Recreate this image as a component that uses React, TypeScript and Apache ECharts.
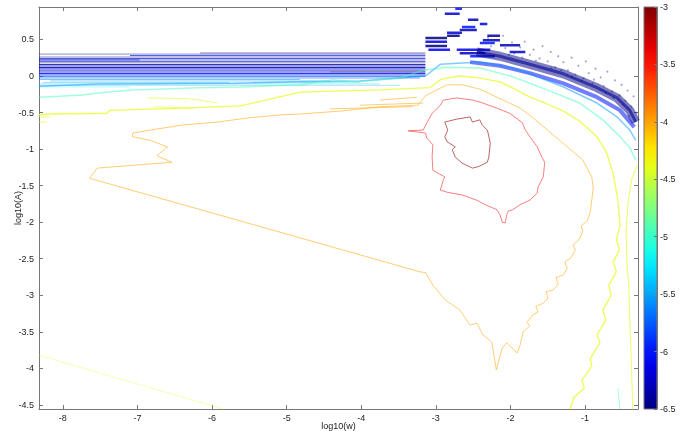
import React, { useEffect, useRef } from "react";
import * as echarts from "echarts";

type P = [number, number];

// ---- contour polylines (log10(w), log10(A)) ----
const innerLoop: P[] = [[-2.88,-0.63],[-2.72,-0.59],[-2.54,-0.56],[-2.51,-0.63],[-2.41,-0.60],[-2.38,-0.67],[-2.31,-0.74],[-2.30,-0.78],[-2.27,-0.92],[-2.29,-1.11],[-2.31,-1.18],[-2.43,-1.24],[-2.51,-1.26],[-2.65,-1.19],[-2.74,-1.11],[-2.78,-1.01],[-2.74,-0.97],[-2.85,-0.90],[-2.88,-0.83],[-2.84,-0.74],[-2.88,-0.63]];

const redLoop: P[] = [[-3.37,-0.75],[-3.17,-0.74],[-3.12,-0.64],[-3.05,-0.51],[-2.94,-0.40],[-2.90,-0.33],[-2.72,-0.30],[-2.50,-0.33],[-2.37,-0.37],[-2.18,-0.44],[-2.01,-0.51],[-1.84,-0.64],[-1.80,-0.74],[-1.74,-0.83],[-1.64,-0.97],[-1.58,-1.11],[-1.54,-1.18],[-1.56,-1.38],[-1.63,-1.52],[-1.64,-1.60],[-1.74,-1.70],[-1.87,-1.76],[-1.97,-1.83],[-2.03,-1.85],[-2.05,-1.90],[-2.07,-2.01],[-2.11,-2.00],[-2.14,-1.90],[-2.18,-1.83],[-2.34,-1.76],[-2.45,-1.70],[-2.64,-1.63],[-2.85,-1.59],[-2.94,-1.56],[-2.90,-1.42],[-2.88,-1.38],[-3.04,-1.29],[-3.05,-1.11],[-3.04,-0.94],[-3.12,-0.85],[-3.14,-0.78],[-3.37,-0.75]];

const orangeLine: P[] = [[-2.85,-0.12],[-3.14,-0.27],[-3.24,-0.40],[-3.75,-0.42],[-4.28,-0.48],[-4.82,-0.52],[-5.05,-0.53],[-5.49,-0.57],[-5.93,-0.63],[-6.39,-0.67],[-6.83,-0.74],[-7.06,-0.78],[-7.07,-0.83],[-6.83,-0.88],[-6.60,-0.97],[-6.74,-1.09],[-6.54,-1.18],[-7.54,-1.26],[-7.64,-1.40],[-3.21,-2.68],[-3.14,-2.69],[-3.04,-2.86],[-2.88,-3.06],[-2.68,-3.20],[-2.54,-3.41],[-2.45,-3.38],[-2.37,-3.54],[-2.25,-3.64],[-2.19,-4.02],[-2.11,-3.72],[-2.05,-3.65],[-1.91,-3.79],[-1.87,-3.68],[-1.83,-3.50],[-1.74,-3.42],[-1.78,-3.37],[-1.70,-3.27],[-1.63,-3.23],[-1.66,-3.15],[-1.56,-3.11],[-1.50,-3.04],[-1.52,-2.95],[-1.43,-2.93],[-1.36,-2.85],[-1.39,-2.76],[-1.29,-2.72],[-1.24,-2.63],[-1.27,-2.54],[-1.19,-2.49],[-1.13,-2.38],[-1.16,-2.31],[-1.08,-2.24],[-1.03,-2.13],[-1.05,-2.05],[-0.97,-1.98],[-0.93,-1.86],[-0.91,-1.70],[-0.89,-1.53],[-0.91,-1.38],[-1.03,-1.15],[-1.34,-0.88],[-1.70,-0.57],[-1.87,-0.44],[-2.14,-0.31],[-2.41,-0.18],[-2.64,-0.12],[-2.85,-0.12]];

const orangeStrands: P[][] = [
  [[-3.75,-0.33],[-3.25,-0.29]],
  [[-4.02,-0.40],[-3.17,-0.37]],
  [[-4.42,-0.45],[-3.31,-0.42]],
];

const yellowLine: P[] = [[-8.32,-0.53],[-8.17,-0.52],[-7.41,-0.51],[-7.37,-0.47],[-6.39,-0.44],[-5.62,-0.41],[-4.82,-0.22],[-3.75,-0.19],[-3.08,-0.16],[-2.94,-0.05],[-2.85,-0.03],[-2.68,0.00],[-2.41,-0.03],[-2.14,-0.08],[-1.94,-0.18],[-1.74,-0.29],[-1.51,-0.38],[-1.29,-0.48],[-1.07,-0.62],[-0.84,-0.83],[-0.71,-1.05],[-0.62,-1.35],[-0.56,-1.70],[-0.53,-2.04],[-0.58,-2.24],[-0.54,-2.38],[-0.62,-2.54],[-0.58,-2.68],[-0.68,-2.86],[-0.65,-3.00],[-0.76,-3.20],[-0.72,-3.34],[-0.84,-3.54],[-0.80,-3.65],[-0.93,-3.86],[-0.91,-3.97],[-1.04,-4.16],[-1.01,-4.27],[-1.15,-4.40],[-1.20,-4.56]];

const yellowRight: P[] = [[-0.30,-1.22],[-0.37,-1.40],[-0.42,-1.70],[-0.45,-2.11],[-0.44,-2.52],[-0.41,-2.93],[-0.40,-3.34],[-0.38,-3.89],[-0.36,-4.56]];

const yellowStrands: P[][] = [
  [[-6.86,-0.30],[-6.33,-0.31],[-6.16,-0.33],[-5.93,-0.37]],
  [[-6.79,-0.42],[-6.25,-0.44]],
  [[-8.32,-0.56],[-8.17,-0.56]],
  [[-8.32,-0.63],[-8.22,-0.63]],
];

const paleYellowLine: P[] = [[-8.32,-3.82],[-5.84,-4.56]];

const cyanLine: P[] = [[-8.32,-0.29],[-7.73,-0.26],[-7.50,-0.23],[-7.06,-0.19],[-6.16,-0.16],[-5.62,-0.15],[-4.82,-0.12],[-4.38,-0.05],[-4.06,-0.08],[-3.48,-0.03],[-3.17,0.08],[-2.85,0.12],[-2.41,0.11],[-1.97,-0.01],[-1.51,-0.19],[-1.07,-0.37],[-0.76,-0.60],[-0.53,-0.83],[-0.40,-0.98],[-0.32,-1.15]];

const cyanTick: P[] = [[-0.56,-4.27],[-0.53,-4.56]];

const lightBlueLine: P[] = [[-8.32,-0.14],[-7.50,-0.11],[-5.72,-0.10],[-4.82,-0.08],[-4.02,-0.07],[-3.14,0.00],[-2.94,0.16],[-2.41,0.19],[-1.97,0.11],[-1.74,0.03],[-1.29,-0.15],[-0.84,-0.37],[-0.57,-0.56],[-0.40,-0.74],[-0.32,-0.88]];

const blueBand: P[] = [[-2.54,0.19],[-2.14,0.14],[-1.74,0.04],[-1.29,-0.10],[-0.84,-0.29],[-0.53,-0.47],[-0.34,-0.70]];

const navyBand: P[] = [[-2.45,0.33],[-2.14,0.27],[-1.74,0.16],[-1.29,0.03],[-0.84,-0.16],[-0.57,-0.30],[-0.40,-0.47],[-0.32,-0.63]];

// horizontal streaks: [log10(A), x start, x end, level, alpha]
const streaks: [number, number, number, number, number][] = [
  [0.315,-6.16,-3.14,-6.5,0.45],
  [0.30,-8.32,-3.14,-6.5,0.45],
  [0.28,-7.10,-3.14,-6.0,0.7],
  [0.26,-8.32,-3.14,-6.5,0.45],
  [0.24,-8.32,-3.14,-6.0,0.75],
  [0.22,-8.32,-6.97,-6.5,0.9],
  [0.22,-6.97,-3.14,-6.5,0.45],
  [0.20,-8.32,-3.14,-6.0,0.7],
  [0.18,-8.32,-3.14,-6.5,0.45],
  [0.157,-8.32,-3.14,-6.5,0.8],
  [0.137,-8.32,-3.14,-6.0,0.8],
  [0.116,-8.32,-3.14,-6.5,0.85],
  [0.096,-8.32,-3.14,-6.0,0.9],
  [0.075,-8.32,-3.14,-6.5,0.45],
  [0.055,-8.32,-4.42,-6.0,0.8],
  [0.055,-4.42,-3.14,-6.5,0.9],
  [0.034,-8.32,-3.14,-6.0,0.85],
  [0.014,-8.32,-3.14,-5.9,0.8],
  [-0.007,-8.32,-3.14,-5.8,0.6],
  [-0.027,-8.32,-3.21,-5.7,0.6],
  [-0.048,-8.32,-4.82,-5.6,0.5],
  [-0.068,-8.17,-4.42,-5.5,0.45],
  [-0.089,-8.27,-5.76,-5.4,0.4],
  [-0.089,-5.45,-4.02,-5.1,0.4],
  [-0.109,-8.32,-3.75,-5.5,0.35],
  [-0.13,-8.32,-3.48,-5.4,0.3],
  [-0.15,-8.32,-7.10,-5.2,0.35],
];

// blocky islands near the step: [x start, x end, log10(A), level]
const islands: [number, number, number, number][] = [
  [-3.14,-2.85,0.52,-6.5],[-3.14,-2.85,0.47,-6.2],[-3.14,-2.85,0.41,-6.5],[-3.10,-2.81,0.36,-6.1],
  [-2.85,-2.68,0.55,-6.5],[-2.85,-2.65,0.59,-6.2],[-2.68,-2.45,0.63,-6.3],[-2.65,-2.47,0.67,-6.0],
  [-2.57,-2.43,0.77,-6.3],[-2.41,-2.31,0.71,-6.2],[-2.37,-2.14,0.49,-6.3],[-2.41,-2.21,0.45,-6.0],
  [-2.31,-2.14,0.55,-6.4],[-2.72,-2.27,0.36,-6.1],[-2.68,-2.34,0.31,-6.3],[-2.54,-2.21,0.27,-6.0],
  [-2.14,-1.87,0.42,-6.3],[-2.01,-1.80,0.33,-6.2],[-2.88,-2.68,0.85,-6.2],[-2.74,-2.65,0.92,-6.0],
];

const noisePoints: P[] = [[-2.30,0.52],[-2.26,0.41],[-2.10,0.55],[-2.07,0.38],[-1.98,0.46],[-1.95,0.31],[-1.87,0.39],[-1.81,0.47],[-1.74,0.29],[-1.69,0.36],[-1.61,0.24],[-1.57,0.41],[-1.50,0.20],[-1.46,0.33],[-1.40,0.12],[-1.36,0.27],[-1.29,0.19],[-1.23,0.08],[-1.18,0.25],[-1.13,0.02],[-1.09,0.14],[-1.02,-0.03],[-0.99,0.20],[-0.95,0.04],[-0.90,-0.10],[-0.86,0.10],[-0.79,-0.02],[-0.75,-0.14],[-0.70,0.06],[-0.64,-0.21],[-0.60,-0.06],[-0.54,-0.27],[-0.51,-0.12],[-0.46,-0.34],[-0.43,-0.20],[-0.38,-0.42],[-0.35,-0.28],[-0.31,-0.50],[-2.02,0.29],[-1.84,0.25],[-1.66,0.21],[-1.45,0.11],[-1.32,0.08],[-1.17,-0.01],[-1.04,-0.06],[-0.88,-0.05],[-0.72,-0.23],[-0.62,-0.30],[-0.49,-0.39],[-0.41,-0.55]];

// axes
const xMin = -8.32, xMax = -0.29;
const yMin = -4.556, yMax = 0.944;
const cMin = -6.5, cMax = -3;

function jet(v: number): string {
  const t = (v - cMin) / (cMax - cMin);
  const c = (k: number) => Math.round(255 * Math.max(0, Math.min(1, 1.5 - Math.abs(4 * t - k))));
  return `rgb(${c(3)},${c(2)},${c(1)})`;
}

function line(data: P[], level: number, width: number, opacity: number, z = 2) {
  return {
    type: "line", xAxisIndex: 0, yAxisIndex: 0, data, showSymbol: false, symbol: "none",
    silent: true, z, lineStyle: { color: jet(level), width, opacity },
  };
}

const FONT = "Liberation Sans Narrow, Liberation Sans, Arial, sans-serif";
const AX = "#777";

export default function App() {
  const ref = useRef<HTMLDivElement>(null);
  useEffect(() => {
    const chart = echarts.init(ref.current!, undefined, { renderer: "svg" });
    const series: any[] = [];
    streaks.forEach(([y, x1, x2, lv, a]) => series.push(line([[x1, y], [x2, y]], lv, 1, a, 1)));
    islands.forEach(([x1, x2, y, lv]) => series.push(line([[x1, y], [x2, y]], lv, 2.5, 0.85, 1)));
    series.push(line(navyBand, -6.5, 9, 0.5, 1));
    series.push(line(navyBand, -6.4, 3, 0.6, 1));
    series.push(line(blueBand, -6.0, 4, 0.55, 2));
    series.push({
      type: "scatter", xAxisIndex: 0, yAxisIndex: 0, data: noisePoints, symbolSize: 2, silent: true,
      itemStyle: { color: jet(-6.5), opacity: 0.35 },
    });
    series.push(line(lightBlueLine, -5.55, 1.5, 0.5));
    series.push(line(cyanLine, -4.95, 1.5, 0.5));
    series.push(line(yellowLine, -4.4, 1.3, 0.75));
    yellowStrands.forEach((s) => series.push(line(s, -4.4, 1, 0.6)));
    series.push(line(yellowRight, -4.4, 1, 0.7));
    series.push(line(paleYellowLine, -4.4, 1, 0.35));
    series.push(line(cyanTick, -4.95, 1, 0.5));
    series.push(line(orangeLine, -4.0, 1, 0.55));
    orangeStrands.forEach((s) => series.push(line(s, -4.0, 1, 0.55)));
    series.push(line(redLoop, -3.4, 1, 0.5));
    series.push(line(innerLoop, -3.05, 1, 0.6));

    const stops = [];
    for (let i = 0; i <= 20; i++) {
      const t = i / 20;
      stops.push({ offset: t, color: jet(cMax - t * (cMax - cMin)) });
    }

    const axisCommon = {
      axisLine: { show: true, onZero: false, lineStyle: { color: AX, width: 1 } },
      axisTick: { show: true, inside: true, length: 4, lineStyle: { color: AX } },
      splitLine: { show: false },
    };
    const labelStyle = { color: "#222", fontSize: 9, fontFamily: FONT };

    chart.setOption({
      animation: false,
      grid: [
        { left: 39, top: 7, width: 599, height: 402, outerBoundsMode: "none", containLabel: false },
        { left: 644, top: 7, width: 13, height: 402, outerBoundsMode: "none", containLabel: false },
      ],
      xAxis: [
        {
          gridIndex: 0, type: "value", min: xMin, max: xMax, splitNumber: 8, position: "bottom", ...axisCommon,
          axisLabel: { ...labelStyle, margin: 4, showMinLabel: false, showMaxLabel: false },
          name: "log10(w)", nameLocation: "middle", nameGap: 12, nameMoveOverlap: false,
          nameTextStyle: { ...labelStyle },
        },
        {
          gridIndex: 0, type: "value", min: xMin, max: xMax, splitNumber: 8, position: "top", ...axisCommon,
          axisLabel: { show: false },
        },
        { gridIndex: 1, type: "value", min: 0, max: 1, show: false },
      ],
      yAxis: [
        {
          gridIndex: 0, type: "value", min: yMin, max: yMax, splitNumber: 11, position: "left", ...axisCommon,
          axisLabel: { ...labelStyle, margin: 5, showMinLabel: false, showMaxLabel: false },
          name: "log10(A)", nameLocation: "middle", nameGap: 17, nameRotate: 90, nameMoveOverlap: false,
          nameTextStyle: { ...labelStyle },
        },
        {
          gridIndex: 0, type: "value", min: yMin, max: yMax, splitNumber: 11, position: "right", ...axisCommon,
          axisLabel: { show: false },
        },
        {
          gridIndex: 1, type: "value", min: cMin, max: cMax, interval: 0.5, position: "right", z: 10,
          axisLine: { show: true, onZero: false, lineStyle: { color: AX } },
          axisTick: { show: true, inside: true, length: 3, lineStyle: { color: AX } },
          splitLine: { show: false },
          axisLabel: { ...labelStyle, margin: 3 },
        },
      ],
      graphic: [
        {
          type: "rect", z: -1, silent: true,
          shape: { x: 644, y: 7, width: 13, height: 402 },
          style: { fill: new echarts.graphic.LinearGradient(0, 0, 0, 1, stops), stroke: AX, lineWidth: 1 },
        },
      ],
      series,
    });
    return () => chart.dispose();
  }, []);
  return <div ref={ref} style={{ position: "fixed", left: 0, top: 0, width: 680, height: 431 }} />;
}
